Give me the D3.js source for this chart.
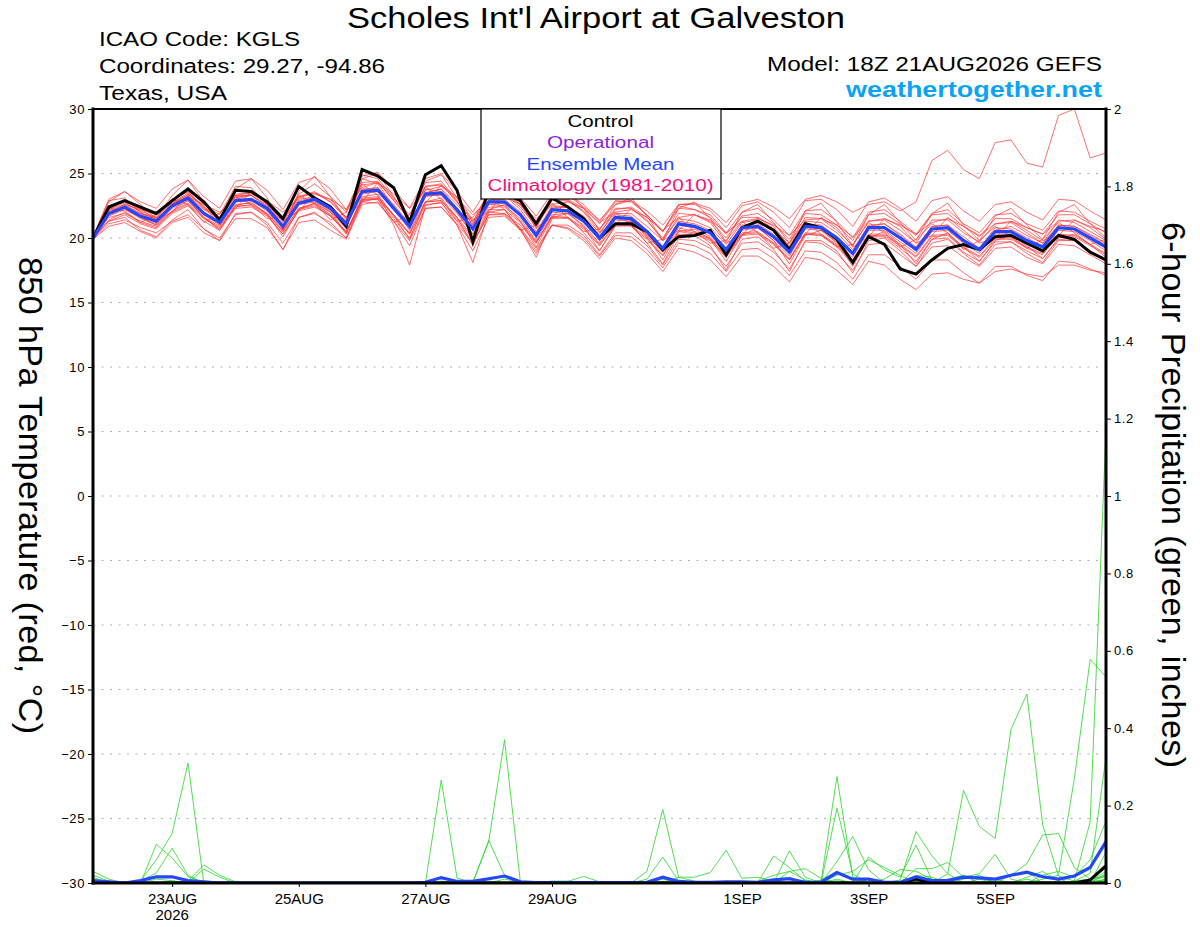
<!DOCTYPE html>
<html>
<head>
<meta charset="utf-8">
<script src="https://cdn.jsdelivr.net/npm/d3@7"></script>
<style>
  body { margin: 0; background: #fff; }
  text { font-family: "Liberation Sans", Arial, Helvetica, sans-serif; }
</style>
</head>
<body>
<div id="chart"></div>
<script>
// GEFS run 18Z 21AUG2026, one value every 6 hours out to 384 h
const runStart = Date.UTC(2026, 7, 21, 18);
const stepHours = 6;

const tempTicks = [-30, -25, -20, -15, -10, -5, 0, 5, 10, 15, 20, 25, 30];
const gridTemps = [-25, -20, -15, -10, -5, 0, 5, 10, 15, 20, 25];
const precipTicks = [0, 0.2, 0.4, 0.6, 0.8, 1, 1.2, 1.4, 1.6, 1.8, 2];
const dateTicks = ['2026-08-23', '2026-08-25', '2026-08-27', '2026-08-29', '2026-09-01', '2026-09-03', '2026-09-05'];
const dateLabels = ['23AUG', '25AUG', '27AUG', '29AUG', '1SEP', '3SEP', '5SEP'];
const legendItems = ['Control', 'Operational', 'Ensemble Mean', 'Climatology (1981-2010)'];

// 850 hPa temperature, deg C
const controlTemp = [20.0,22.4,22.9,22.4,21.9,22.9,23.8,22.8, 21.4,23.7,23.6,22.8,21.5,24.0,23.1,22.4,
  20.9,25.3,24.8,23.9,21.2,24.9,25.6,23.7, 19.7,23.8,23.5,22.9,21.1,23.1,22.4,21.5,
  20.0,21.1,21.1,20.5,19.1,20.1,20.2,20.6, 18.7,20.8,21.3,20.6,19.1,21.1,20.8,19.9,
  18.1,20.1,19.5,17.6,17.2,18.3,19.2,19.5, 19.1,20.1,20.2,19.6,19.0,20.2,19.9,18.9, 18.3];

const meanTemp = [20.0,21.9,22.4,21.7,21.3,22.5,23.1,21.9, 21.2,22.9,23.0,22.3,20.9,22.7,23.0,22.3,
  21.1,23.6,23.7,22.3,20.9,23.4,23.5,22.2, 20.7,22.8,22.8,21.8,20.2,22.2,22.1,21.3,
  20.0,21.6,21.5,20.5,19.2,21.1,20.9,20.4, 19.1,20.8,20.9,20.1,18.9,20.9,20.8,20.0,
  18.8,20.8,20.8,20.0,19.1,20.7,20.8,19.8, 19.1,20.5,20.5,19.8,19.3,20.8,20.7,20.0, 19.3];

const memberTemps = [
  [20.1,23.0,23.6,22.8,22.3,23.8,24.5,23.2, 22.3,24.4,24.6,23.7,22.2,24.3,24.7,23.8, 22.2,24.8,25.1,23.8,22.3,24.6,25.0,23.6, 22.0,24.0,24.2,23.1,21.7,23.5,23.4,22.6, 21.3,22.9,22.8,21.8,20.5,22.3,22.2,21.8, 20.4,22.0,22.3,21.4,20.2,22.1,22.2,21.3, 20.0,22.0,22.2,21.3,20.3,21.9,22.2,21.1, 20.4,21.8,21.9,21.1,20.6,22.1,22.0,21.3, 20.7],
  [19.9,20.9,21.2,20.5,20.0,21.2,21.6,20.4, 19.8,21.5,21.5,20.8,19.1,21.2,21.4,20.6, 19.9,22.6,22.8,21.3,19.4,22.3,22.4,21.0, 19.0,21.6,21.7,20.6,18.8,21.0,21.0,20.2, 18.7,20.4,20.4,19.4,17.9,19.9,19.8,19.2, 17.8,19.6,19.7,18.9,17.6,19.7,19.6,18.8, 17.5,19.5,19.6,18.7,17.8,19.3,19.4,18.5, 17.8,19.2,19.3,18.5,18.0,19.5,19.4,18.7, 18.0],
  [20.0,22.2,22.9,22.3,21.4,22.0,23.4,22.5, 21.0,22.3,23.6,22.9,21.3,22.1,23.4,23.0, 21.6,22.8,24.3,23.1,21.6,22.7,24.1,23.2, 21.4,22.0,23.5,22.6,20.8,21.6,22.9,22.0, 20.5,21.0,22.3,21.4,19.8,20.6,21.8,21.2, 19.6,20.2,21.6,20.9,19.3,20.3,21.6,20.8, 19.3,20.1,21.5,20.9,19.6,20.2,21.6,20.6, 19.6,20.0,21.3,20.6,19.8,20.2,21.4,20.8, 19.9],
  [20.0,21.4,22.0,21.2,20.8,22.0,22.6,21.5, 20.8,22.4,22.6,21.9,20.5,22.3,22.7,22.0, 20.9,23.4,23.6,22.3,21.0,23.5,23.8,22.6, 21.1,23.3,23.4,22.4,20.9,22.9,22.9,22.1, 20.7,22.3,22.3,21.3,20.0,21.9,21.8,21.3, 20.0,21.7,21.9,21.1,19.9,21.9,21.8,21.0, 19.8,21.8,21.9,21.1,20.2,21.8,21.9,20.9, 20.1,21.5,21.5,20.8,20.3,21.8,21.8,21.1, 20.4],
  [20.0,21.3,21.6,20.6,20.1,21.4,22.2,20.7, 19.8,21.9,22.0,21.0,19.1,21.6,22.0,21.0, 20.0,23.0,23.0,21.0,17.9,22.5,22.8,21.0, 18.1,22.0,22.2,20.7,18.5,21.5,21.6,20.4, 19.0,20.9,21.0,19.6,18.0,20.3,20.2,19.4, 17.5,19.9,20.1,19.1,17.4,19.8,19.8,19.0, 17.3,19.8,20.0,19.0,17.8,19.6,19.9,18.8, 17.9,19.5,19.7,18.8,18.1,19.8,19.8,18.9, 18.2],
  [20.0,22.2,22.7,22.1,21.6,22.9,23.6,22.4, 21.6,23.3,23.5,22.8,21.4,23.2,23.6,22.8, 21.5,24.1,24.3,22.9,21.5,24.0,24.1,22.8, 21.3,23.4,23.5,22.6,21.0,23.0,23.0,22.3, 21.1,22.8,22.9,22.1,21.0,22.6,22.7,22.3, 21.2,22.7,23.0,22.4,21.5,23.0,23.3,22.8, 22.0,22.6,22.8,22.1,22.8,26.0,26.8,25.3, 24.6,27.4,27.6,25.8,25.5,29.5,30.0,26.2, 26.6],
  [20.0,22.8,23.6,22.6,21.5,23.3,24.5,22.8, 21.2,23.8,24.6,23.1,20.6,23.6,24.8,23.2, 21.4,24.6,25.0,23.2,21.4,24.4,24.9,23.1, 21.2,23.6,24.3,22.8,20.7,23.3,23.6,22.3, 20.6,22.6,23.1,21.7,19.8,22.3,22.8,21.5, 19.7,22.0,22.6,21.2,19.6,22.1,22.7,21.2, 19.4,21.8,22.6,21.2,19.8,21.9,22.7,21.0, 19.8,21.7,22.3,21.0,19.9,22.0,22.6,21.1, 20.0],
  [20.0,21.3,21.8,21.1,20.7,21.9,22.5,21.3, 20.6,22.3,22.4,21.7,20.3,22.1,22.4,21.7, 20.5,23.0,23.1,21.7,20.3,22.8,22.9,21.6, 20.1,22.2,22.2,21.2,19.6,21.6,21.5,20.7, 19.4,21.0,20.9,19.9,18.6,20.5,20.3,19.8, 18.5,20.2,20.3,19.5,18.3,20.3,20.2,19.4, 18.2,20.2,20.2,19.4,18.5,20.1,20.2,19.2, 18.5,19.9,19.9,19.2,18.7,20.2,20.1,19.4, 18.7],
  [20.1,22.5,22.9,22.2,21.8,23.0,23.6,22.3, 21.6,23.3,23.3,22.5,21.0,22.6,22.8,22.0, 20.4,22.8,22.7,21.3,19.8,22.3,22.4,21.1, 19.6,21.8,21.9,21.0,19.6,21.8,21.9,21.3, 20.3,22.2,22.4,21.6,20.5,22.6,22.6,22.1, 20.8,22.5,22.8,22.0,20.8,22.9,23.0,22.2, 20.9,22.8,23.1,22.3,21.3,22.9,23.2,22.1, 21.3,22.6,22.8,22.0,21.4,23.0,22.9,22.1, 21.4],
  [20.0,21.6,21.9,21.3,20.9,22.1,22.7,21.6, 20.7,22.5,22.5,21.8,20.3,22.2,22.5,21.7, 20.4,22.9,23.0,21.5,20.0,22.6,22.7,21.3, 19.7,21.8,21.8,20.7,19.0,21.0,20.8,20.0, 18.6,20.2,20.1,19.1,17.7,19.6,19.4,18.8, 17.4,19.1,19.2,18.4,17.1,19.0,18.9,18.1, 16.8,18.7,18.7,17.8,16.8,18.3,18.3,17.3, 16.5,17.8,17.8,17.1,16.7,18.2,18.1,17.6, 17.1],
  [20.0,21.8,22.3,21.5,21.0,22.3,22.9,21.6, 20.9,22.6,22.7,21.9,20.5,22.3,22.6,21.8, 20.5,23.1,23.2,21.8,20.3,22.8,22.9,21.5, 19.9,22.0,21.9,20.8,19.2,21.0,20.7,19.8, 18.4,20.0,19.8,18.8,17.4,19.2,18.9,18.3, 17.0,18.6,18.6,17.8,16.6,18.5,18.3,17.5, 16.4,18.2,17.9,16.8,16.0,17.2,17.3,16.8, 16.5,17.4,17.6,17.2,17.0,17.9,17.9,17.5, 17.3],
  [20.0,22.0,22.6,21.9,21.5,22.6,23.4,22.0, 21.3,23.0,23.3,22.4,21.0,22.9,23.1,22.5, 21.2,23.8,23.9,22.5,21.0,23.5,23.8,22.3, 20.8,22.9,23.0,22.0,20.3,22.4,22.4,21.4, 20.1,21.8,21.7,20.6,19.3,21.3,21.1,20.6, 19.2,21.0,21.1,20.3,19.0,21.1,21.0,20.1, 18.9,21.0,21.1,20.2,19.2,20.9,21.0,19.9, 19.2,20.8,20.7,20.0,19.4,21.0,20.9,20.2, 19.5],
  [20.0,22.3,22.1,21.2,21.8,23.0,22.6,21.2, 21.9,23.2,22.6,21.5,21.6,23.3,22.7,21.4, 22.0,24.2,23.3,21.2,21.8,24.0,23.0,21.3, 21.6,23.3,22.2,20.6,21.0,22.7,21.6,20.5, 20.7,22.0,21.0,19.6,19.9,21.6,20.5,19.6, 19.8,21.3,20.4,19.2,19.6,21.3,20.3,19.3, 19.5,21.2,20.4,19.3,19.9,21.1,20.4,19.1, 19.8,20.9,20.1,19.2,19.9,21.2,20.4,19.5, 19.9],
  [20.0,21.9,22.5,21.9,21.6,22.8,23.3,22.2, 21.5,23.2,23.3,22.6,21.2,23.0,23.2,22.5, 21.3,23.7,23.9,22.6,21.1,23.3,23.3,21.9, 20.3,22.4,22.4,21.3,19.7,21.7,21.6,20.8, 19.5,21.1,21.0,20.0,18.7,20.6,20.4,19.9, 18.6,20.3,20.4,19.6,18.4,20.4,20.3,19.5, 18.3,20.3,20.3,19.5,18.6,20.2,20.3,19.3, 18.6,20.0,20.0,19.3,18.8,20.3,20.2,19.5, 18.8],
  [20.1,22.9,23.1,22.0,21.2,22.8,23.8,22.6, 21.8,24.0,23.9,22.6,20.7,23.4,24.2,23.2, 22.0,24.9,24.6,23.1,21.8,24.3,24.4,22.9, 20.9,23.4,23.6,22.6,21.3,23.2,23.3,22.4, 21.4,22.6,22.9,21.8,20.5,22.5,22.2,21.6, 20.3,21.6,21.6,20.7,19.6,21.6,21.5,20.6, 19.4,21.3,21.4,20.6,19.6,21.4,21.4,20.4, 19.7,21.1,21.2,20.4,19.6,21.4,21.2,20.5, 19.8],
  [19.9,21.1,21.4,20.8,20.4,21.3,21.8,20.7, 20.0,21.8,22.0,21.2,19.6,21.6,21.9,21.2, 20.0,22.8,23.1,21.8,20.4,23.2,23.4,22.1, 20.6,22.6,22.7,21.8,20.4,22.3,22.4,21.7, 20.4,21.9,21.9,20.9,19.8,21.5,21.3,20.8, 19.5,21.2,21.4,20.6,19.4,21.3,21.2,20.4, 19.1,20.9,21.1,20.3,19.3,20.9,21.0,20.1, 19.2,20.6,20.9,20.2,19.6,21.0,20.9,20.3, 19.6],
  [20.0,21.7,22.2,21.6,21.0,22.1,22.9,21.6, 20.6,22.5,22.8,21.8,20.1,22.2,22.7,21.8, 20.3,23.2,23.4,21.7,19.9,22.8,23.1,21.6, 19.4,22.2,22.6,21.3,19.3,21.6,21.9,20.9, 19.0,21.0,21.3,20.1,18.3,20.5,20.7,19.9, 18.2,20.2,20.8,19.8,18.0,20.2,20.6,19.6, 17.8,20.0,20.5,19.5,18.0,19.9,20.4,19.3, 18.2,19.8,20.2,19.4,18.4,20.0,20.3,19.5, 18.5],
  [20.0,22.1,22.6,22.2,22.0,22.7,23.2,22.6, 22.0,23.1,23.4,22.9,22.0,23.1,23.5,23.0, 22.2,23.9,24.3,23.4,22.3,23.7,24.0,23.1, 21.8,22.9,23.2,22.6,21.5,22.6,22.8,22.3, 21.2,22.0,22.2,21.6,20.6,21.6,21.8,21.4, 20.4,21.3,21.5,21.0,20.2,21.4,21.5,21.0, 20.1,21.3,21.5,21.0,20.3,21.2,21.5,20.9, 20.2,21.1,21.3,20.8,20.3,21.3,21.4,20.9, 20.5],
  [20.0,21.8,22.3,21.6,21.1,22.4,23.0,21.8, 21.0,22.8,22.9,22.1,20.6,22.6,22.9,22.1, 20.7,24.6,24.2,22.4,20.6,23.8,23.6,22.0, 20.3,22.6,22.5,21.5,19.8,22.0,21.9,21.0, 19.6,21.5,21.4,20.2,18.9,21.0,20.8,20.1, 18.8,20.6,20.8,19.8,18.6,20.7,20.6,19.7, 18.5,20.6,20.6,19.7,18.8,20.5,20.6,19.6, 18.8,20.3,20.3,19.6,19.0,20.6,20.5,19.8, 19.0],
  [20.0,22.4,22.8,22.0,21.4,22.7,23.5,22.3, 21.4,23.4,23.5,22.7,21.3,23.2,23.5,22.8, 21.6,24.3,24.4,22.9,21.4,24.0,24.2,22.8, 21.0,23.3,23.3,22.2,20.5,22.5,22.4,21.4, 19.8,21.4,21.3,20.2,18.9,20.8,20.5,20.0, 18.6,20.4,20.5,19.6,18.3,20.3,20.2,19.3, 18.0,20.1,20.1,19.2,18.2,19.9,20.0,18.9, 18.2,19.7,19.7,19.0,18.4,19.9,19.8,19.0, 18.3]
];

// 6-hour precipitation, inches
const controlPrecip = [0,0,0,0,0,0,0,0, 0,0,0,0,0,0,0,0, 0,0,0,0,0,0,0,0, 0,0,0,0,0,0,0,0,
  0,0,0,0,0,0,0,0, 0,0,0,0,0,0,0,0, 0,0,0,0,.01,0,0,0, 0,0,0,0,0,0,0,.008, .044];

const meanPrecip = [.006,.003,0,.006,.016,.016,.006,.003, 0,0,0,0,0,0,0,0, 0,0,0,0,0,.002,.014,.004,
  .004,.011,.018,.003,.001,.001,.001,.001, .001,.001,.001,.002,.015,.004,.002,.002,
  .003,.003,.002,.008,.011,.002,.002,.027, .01,.01,.002,.002,.016,.006,.006,.015,
  .013,.01,.02,.028,.016,.01,.018,.04, .107];

const memberPrecip = [
  [.02,.005,0,.005,.06,.128,.31,0, 0,0,0,0,0,0,0,0, 0,0,0,0,0,0,0,0, 0,0,0,0,0,0,0,0, 0,0,0,.03,.19,.015,.005,0, 0,0,0,0,0,0,.005,.275, .015,0,0,0,0,0,0,0, 0,0,0,0,0,0,0,0, .005],
  [.03,.01,0,0,.10,.065,.017,0, 0,0,0,0,0,0,0,0, 0,0,0,0,0,0,.266,.013, 0,0,0,0,0,0,0,0, 0,0,0,0,0,0,0,0, 0,0,0,0,0,0,0,0, 0,0,0,0,0,0,.024,.239, .146,.115,.397,.488,.15,.018,.005,0, .01],
  [.015,0,0,.005,.026,.09,.02,0, 0,0,0,0,0,0,0,0, 0,0,0,0,0,0,0,0, .003,.107,.37,.003,0,0,0,0, 0,0,0,0,0,0,0,0, 0,0,0,.07,.04,.005,0,0, 0,0,0,0,0,0,0,0, 0,0,0,0,0,0,.005,.158, 1.17],
  [0,0,0,0,0,0,.005,.047, .02,.003,0,0,0,0,0,0, 0,0,0,0,0,0,0,0, 0,.11,.02,0,0,0,0,0, 0,0,0,.01,.067,.005,0,0, 0,0,0,0,.083,.015,0,.193, .024,0,0,0,0,0,0,0, 0,0,0,0,.01,.02,.27,.578, .533],
  [0,0,0,0,0,0,0,.036, .015,0,0,0,0,0,0,0, 0,0,0,0,0,0,0,0, 0,0,0,0,0,0,.004,.017, .003,0,0,0,0,0,0,0, 0,0,0,0,0,0,0,.055, .12,.034,0,.008,.133,.07,.024,0, 0,0,0,0,0,0,.005,.025, .326],
  [.008,0,0,0,0,0,0,0, 0,0,0,0,0,0,0,0, 0,0,0,0,0,0,0,0, 0,0,0,0,0,0,0,0, 0,0,0,0,0,0,0,0, 0,0,0,0,.03,.037,.012,0, 0,.067,.034,.015,.098,.008,0,0, 0,.005,.02,.05,.124,.128,.04,.01, .02],
  [.01,0,0,0,0,0,0,0, 0,0,0,0,0,0,0,0, 0,0,0,0,0,0,0,0, 0,0,0,0,0,0,0,0, 0,0,0,0,0,.015,.015,.027, .085,.012,.015,.005,0,0,0,0, 0,0,0,0,.037,.037,.053,.015, .024,.074,.01,0,0,0,0,.01, .05],
  [0,0,0,0,0,0,0,0, 0,0,0,0,0,0,0,0, 0,0,0,0,0,0,0,0, 0,0,0,0,0,.005,.005,0, 0,0,0,0,0,0,0,0, 0,0,0,0,0,0,.008,.03, .01,0,0,0,0,0,0,0, .01,0,0,0,.02,.03,.015,.06, .16],
  [.005,0,0,0,0,0,0,0, 0,0,0,0,0,0,0,0, 0,0,0,0,0,0,0,0, 0,0,0,0,0,0,0,0, 0,.004,.003,0,0,0,0,0, 0,0,.004,.02,.03,.008,0,0, 0,0,.01,.035,.03,.01,0,.01, .02,0,0,0,0,0,0,0, .025],
  [0,0,0,0,0,0,.005,0, 0,0,0,0,0,0,0,0, 0,0,0,0,0,0,0,0, 0,0,.01,.003,0,0,0,0, 0,0,0,0,0,0,0,0, 0,0,0,0,0,0,0,.02, .03,.06,.04,.02,0,0,0,0, 0,0,0,.015,.03,.005,0,0, .08],
  [0,0,0,0,0,0,0,0, 0,0,0,0,0,0,0,0, 0,0,0,0,0,0,.005,0, 0,0,0,0,0,0,0,0, 0,0,0,0,.01,0,0,0, 0,0,0,.01,.015,0,0,0, 0,0,0,0,.02,.015,0,0, 0,0,.02,.03,0,0,.02,.04, .1],
  [.004,0,0,0,0,.005,0,0, 0,0,0,0,0,0,0,0, 0,0,0,0,0,0,0,0, 0,0,0,0,0,.003,0,0, 0,0,0,0,0,0,0,0, 0,.003,0,0,0,0,0,0, 0,.01,0,0,0,0,.01,.02, 0,0,0,0,0,0,0,.005, .03],
  [0,0,0,0,0,0,0,0, 0,0,0,0,0,0,0,0, 0,0,0,0,0,0,0,0, 0,.005,0,0,0,0,0,0, .002,0,0,0,.004,0,0,0, 0,0,0,0,0,0,0,.01, 0,0,0,0,.005,0,0,0, 0,.01,0,0,0,0,.005,.01, .015],
  [0,0,0,0,.01,.006,0,0, 0,0,0,0,0,0,0,0, 0,0,0,0,0,0,0,0, 0,0,0,0,0,0,0,0, 0,0,0,0,0,0,0,0, 0,0,0,0,0,.005,0,0, 0,0,0,0,0,0,0,0, 0,0,0,0,0,0,0,.003, .02],
  [0,0,0,0,0,0,0,0, 0,0,0,0,0,0,0,0, 0,0,0,0,0,0,0,0, 0,0,0,0,0,0,0,0, 0,0,0,0,0,0,0,0, 0,0,0,0,0,0,0,0, 0,0,0,0,0,0,0,0, 0,0,0,.01,0,0,0,0, .01],
  [0,0,0,0,0,0,0,0, 0,0,0,0,0,0,0,0, 0,0,0,0,0,0,0,0, 0,0,0,0,0,0,0,0, 0,0,0,0,0,0,0,0, 0,0,0,0,0,0,0,.006, 0,0,0,0,0,0,0,0, 0,0,0,0,0,0,0,0, .004],
  [0,0,0,0,0,0,0,0, 0,0,0,0,0,0,0,0, 0,0,0,0,0,0,0,0, 0,0,0,0,0,0,0,0, 0,0,0,0,0,0,0,0, 0,0,0,0,0,0,0,0, 0,0,0,0,.006,0,0,0, 0,0,0,0,0,.005,0,0, .006],
  [0,0,0,0,0,0,0,0, 0,0,0,0,0,0,0,0, 0,0,0,0,0,0,0,0, 0,0,0,0,0,0,0,0, 0,0,0,0,0,0,0,0, 0,0,0,0,0,0,0,0, 0,0,0,0,0,0,0,0, 0,0,0,0,0,0,0,0, 0],
  [0,0,0,0,0,0,0,0, 0,0,0,0,0,0,0,0, 0,0,0,0,0,0,0,0, 0,0,0,0,0,0,0,0, 0,0,0,0,0,0,0,0, 0,0,0,0,0,0,0,0, 0,0,0,0,0,0,0,0, 0,0,0,0,.004,0,0,0, .005],
  [0,0,0,0,0,0,0,0, 0,0,0,0,0,0,0,0, 0,0,0,0,0,0,0,0, 0,0,0,0,0,0,0,0, 0,0,0,0,0,0,0,0, 0,0,0,0,0,0,0,0, 0,0,0,0,0,0,0,0, 0,0,0,0,0,0,0,.004, .008]
];

(function() {

  const width = 1200, height = 927;
  const plot = { left: 93, right: 1106, top: 109, bottom: 883 };

  const svg = d3.select('#chart')
    .append('svg')
    .attr('width', width)
    .attr('height', height);

  const times = controlTemp.map((d, i) => new Date(runStart + i * stepHours * 36e5));

  const x = d3.scaleUtc()
    .domain([times[0], times[times.length - 1]])
    .range([plot.left, plot.right]);
  const yTemp = d3.scaleLinear().domain([-30, 30]).range([plot.bottom, plot.top]);
  const yPrecip = d3.scaleLinear().domain([0, 2]).range([plot.bottom, plot.top]);

  const tempLine = d3.line().x((d, i) => x(times[i])).y(d => yTemp(d));
  const precipLine = d3.line().x((d, i) => x(times[i])).y(d => yPrecip(d));

  svg.append('clipPath').attr('id', 'plot-clip')
    .append('rect')
    .attr('x', plot.left).attr('y', plot.top)
    .attr('width', plot.right - plot.left).attr('height', plot.bottom - plot.top);

  // dotted grid on the temperature ticks
  svg.append('g')
    .selectAll('line')
    .data(gridTemps)
    .join('line')
    .attr('x1', plot.left).attr('x2', plot.right)
    .attr('y1', d => yTemp(d)).attr('y2', d => yTemp(d))
    .attr('stroke', '#b0b0b0')
    .attr('stroke-width', 1.2)
    .attr('stroke-dasharray', '2,6.5');

  const lines = svg.append('g').attr('clip-path', 'url(#plot-clip)');

  // ensemble members
  lines.append('g')
    .selectAll('path')
    .data(memberTemps)
    .join('path')
    .attr('d', tempLine)
    .attr('fill', 'none')
    .attr('stroke', '#ff3535')
    .attr('stroke-opacity', 0.8)
    .attr('stroke-width', 0.9);

  lines.append('g')
    .selectAll('path')
    .data(memberPrecip)
    .join('path')
    .attr('d', precipLine)
    .attr('fill', 'none')
    .attr('stroke', '#2ad62a')
    .attr('stroke-opacity', 0.9)
    .attr('stroke-width', 0.9);

  // control and mean on top
  lines.append('path').datum(controlTemp)
    .attr('d', tempLine).attr('fill', 'none')
    .attr('stroke', '#000').attr('stroke-width', 3);
  lines.append('path').datum(controlPrecip)
    .attr('d', precipLine).attr('fill', 'none')
    .attr('stroke', '#000').attr('stroke-width', 3);
  lines.append('path').datum(meanTemp)
    .attr('d', tempLine).attr('fill', 'none')
    .attr('stroke', '#2446ff').attr('stroke-width', 3.2);
  lines.append('path').datum(meanPrecip)
    .attr('d', precipLine).attr('fill', 'none')
    .attr('stroke', '#2446ff').attr('stroke-width', 3.2);

  // axes
  const leftAxis = svg.append('g')
    .attr('transform', `translate(${plot.left},0)`)
    .call(d3.axisLeft(yTemp).tickValues(tempTicks).tickSize(5).tickPadding(3));
  const rightAxis = svg.append('g')
    .attr('transform', `translate(${plot.right},0)`)
    .call(d3.axisRight(yPrecip).tickValues(precipTicks).tickFormat(d3.format('~g')).tickSize(5).tickPadding(3));
  const bottomAxis = svg.append('g')
    .attr('transform', `translate(0,${plot.bottom})`)
    .call(d3.axisBottom(x)
      .tickValues(dateTicks.map(d => new Date(d + 'T00:00:00Z')))
      .tickFormat((d, i) => dateLabels[i])
      .tickSize(4).tickPadding(6));

  [leftAxis, rightAxis].forEach(g => {
    g.select('.domain').remove();
    g.selectAll('text').attr('font-size', 13).attr('letter-spacing', 0.6).attr('fill', '#000');
    g.selectAll('line').attr('stroke', '#000');
  });
  bottomAxis.select('.domain').remove();
  bottomAxis.selectAll('text').attr('font-size', 15).attr('fill', '#000');
  bottomAxis.selectAll('line').attr('stroke', '#000');
  svg.append('text')
    .attr('x', x(new Date(dateTicks[0] + 'T00:00:00Z')))
    .attr('y', 920)
    .attr('text-anchor', 'middle')
    .attr('font-size', 15)
    .text('2026');

  // frame
  const frame = svg.append('g').attr('stroke', '#000').attr('stroke-linecap', 'square');
  frame.append('line').attr('x1', plot.left).attr('x2', plot.right).attr('y1', plot.top).attr('y2', plot.top).attr('stroke-width', 2);
  frame.append('line').attr('x1', plot.left).attr('x2', plot.right).attr('y1', plot.bottom).attr('y2', plot.bottom).attr('stroke-width', 3);
  frame.append('line').attr('x1', plot.left).attr('x2', plot.left).attr('y1', plot.top).attr('y2', plot.bottom).attr('stroke-width', 3);
  frame.append('line').attr('x1', plot.right).attr('x2', plot.right).attr('y1', plot.top).attr('y2', plot.bottom).attr('stroke-width', 3);

  // legend box
  const legendColors = ['#000', '#8e1fdc', '#2446ff', '#f0127c'];
  const legendWidths = [66, 107, 148, 226];
  const legend = svg.append('g');
  legend.append('rect')
    .attr('x', 481).attr('y', plot.top)
    .attr('width', 240).attr('height', 90)
    .attr('fill', '#fff').attr('stroke', '#000').attr('stroke-width', 1.2);
  legend.selectAll('text')
    .data(legendItems)
    .join('text')
    .attr('x', 600.5)
    .attr('y', (d, i) => 126.5 + i * 21.6)
    .attr('text-anchor', 'middle')
    .attr('font-size', 16)
    .attr('textLength', (d, i) => legendWidths[i])
    .attr('lengthAdjust', 'spacingAndGlyphs')
    .attr('fill', (d, i) => legendColors[i])
    .text(d => d);

  // header
  function label(str, px, py, size, len, opts = {}) {
    return svg.append('text')
      .attr('x', px).attr('y', py)
      .attr('font-size', size)
      .attr('textLength', len)
      .attr('lengthAdjust', opts.adjust || 'spacingAndGlyphs')
      .attr('font-weight', opts.weight || 'normal')
      .attr('fill', opts.color || '#000')
      .attr('transform', opts.transform || null)
      .text(str);
  }
  label("Scholes Int'l Airport at Galveston", 347, 28, 29, 498);
  label('ICAO Code: KGLS', 99, 46, 20, 201);
  label('Coordinates: 29.27, -94.86', 99, 73, 20, 286);
  label('Texas, USA', 99, 100, 20, 128);
  label('Model: 18Z 21AUG2026 GEFS', 767, 71, 20, 335);
  label('weathertogether.net', 846, 97, 22, 256, { weight: 'bold', color: '#0ca3f6' });

  // axis titles, read top to bottom
  label('850 hPa Temperature (red, \u00B0C)', 0, 0, 34, 477, { transform: 'translate(19,257) rotate(90)', adjust: 'spacing' });
  label('6-hour Precipitation (green, inches)', 0, 0, 34, 546, { transform: 'translate(1162,222) rotate(90)', adjust: 'spacing' });

})();
</script>
</body>
</html>
